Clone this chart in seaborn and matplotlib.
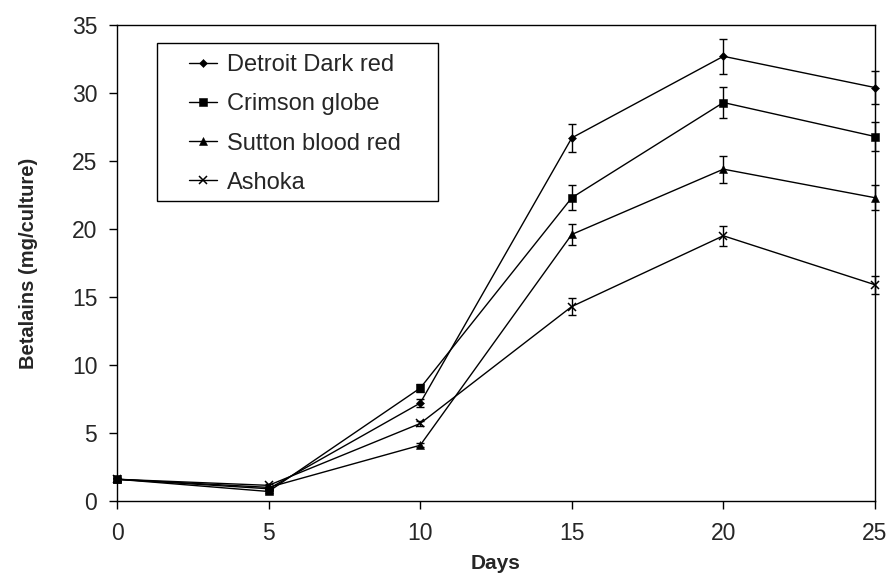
import pandas as pd
import matplotlib
matplotlib.use('Agg')
import matplotlib.pyplot as plt
from matplotlib.patches import Rectangle
import seaborn as sns

# Data
days = [0, 5, 10, 15, 20, 25]
varieties = ['Detroit Dark red', 'Crimson globe', 'Sutton blood red', 'Ashoka']
detroit = [1.6, 0.9, 7.2, 26.7, 32.7, 30.4]
crimson = [1.6, 0.7, 8.3, 22.3, 29.3, 26.8]
sutton = [1.6, 1.0, 4.1, 19.6, 24.4, 22.3]
ashoka = [1.6, 1.15, 5.7, 14.3, 19.5, 15.9]
detroit_err = [0.1, 0.1, 0.3, 1.05, 1.3, 1.2]
crimson_err = [0.1, 0.1, 0.3, 0.9, 1.15, 1.05]
sutton_err = [0.1, 0.1, 0.15, 0.8, 1.0, 0.9]
ashoka_err = [0.1, 0.1, 0.2, 0.6, 0.75, 0.65]

values = [detroit, crimson, sutton, ashoka]
errors = [detroit_err, crimson_err, sutton_err, ashoka_err]

rows = []
for name, vals, errs in zip(varieties, values, errors):
    for d, v, e in zip(days, vals, errs):
        rows.append({'Days': d, 'Betalains': v, 'err': e, 'Variety': name})
df = pd.DataFrame(rows)

sns.set_style('white')
plt.rcParams['font.family'] = ['Liberation Sans', 'DejaVu Sans']

fig = plt.figure(figsize=(8.91, 5.76), dpi=100)
ax = fig.add_axes([117 / 891, 75 / 576, 758 / 891, 476 / 576])

markers = {'Detroit Dark red': 'D', 'Crimson globe': 's', 'Sutton blood red': '^', 'Ashoka': 'x'}
sizes = {'Detroit Dark red': 4, 'Crimson globe': 5.5, 'Sutton blood red': 5.5, 'Ashoka': 5.5}

# error bars first, lines/markers on top
for name in varieties:
    sub = df[df['Variety'] == name]
    ax.errorbar(sub['Days'], sub['Betalains'], yerr=sub['err'], fmt='none',
                ecolor='black', elinewidth=1, capsize=2.6, capthick=1, clip_on=False)

for name in varieties:
    sub = df[df['Variety'] == name]
    sns.lineplot(data=sub, x='Days', y='Betalains', color='black', ax=ax,
                 marker=markers[name], markersize=sizes[name],
                 markeredgecolor='black', markerfacecolor='black',
                 markeredgewidth=1.1 if name == 'Ashoka' else 0.4,
                 linewidth=1.0, label=name, clip_on=False)

ax.set_xlim(0, 25)
ax.set_ylim(0, 35)
ax.set_xticks([0, 5, 10, 15, 20, 25])
ax.set_yticks(range(0, 36, 5))
ax.tick_params(axis='both', direction='out', length=5.8, width=1, color='black',
               labelsize=16.5, bottom=True, left=True)
ax.tick_params(axis='x', pad=9)
ax.tick_params(axis='y', pad=8.4)
for s in ax.spines.values():
    s.set_color('black')
    s.set_linewidth(1)

ax.set_xlabel('Days', fontsize=15, fontweight='bold', labelpad=7)
ax.set_ylabel('Betalains (mg/culture)', fontsize=14.5, fontweight='bold', labelpad=24)

# legend without its own frame; box drawn separately to match the wide side padding
handles, labels = ax.get_legend_handles_labels()
leg = ax.legend(handles, labels, loc='upper left', bbox_to_anchor=(0.095, 0.939),
                borderaxespad=0, borderpad=0, fontsize=17, frameon=False,
                handlelength=1.2, handletextpad=0.4, labelspacing=0.73)
ax.add_patch(Rectangle((0.0524, (501 - 200.7) / 476), (438 - 156.7) / 758,
                       (200.7 - 43.3) / 476, transform=ax.transAxes,
                       fill=False, edgecolor='black', linewidth=1, zorder=5))

fig.savefig('out.png', dpi=100)
